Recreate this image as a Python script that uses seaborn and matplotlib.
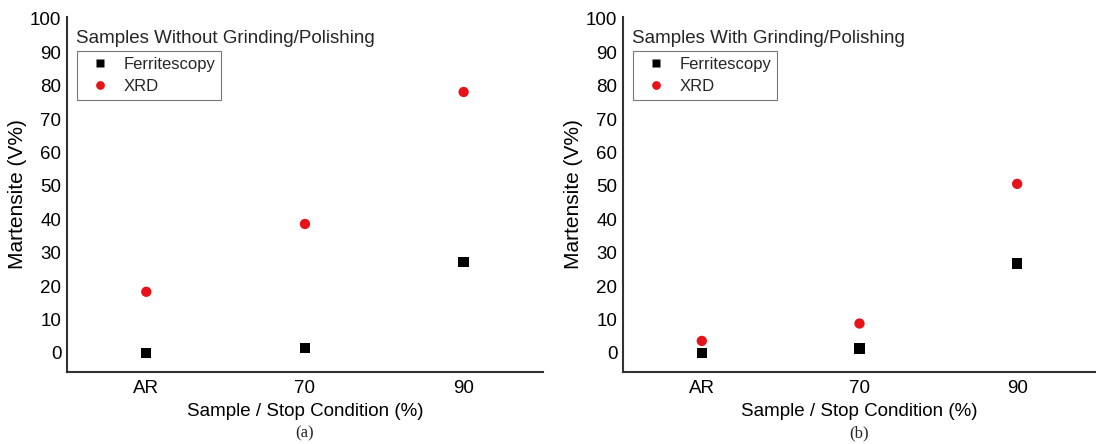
import pandas as pd
import matplotlib.pyplot as plt
import seaborn as sns

sns.set_theme(style="white")
plt.rcParams['font.family'] = ['Liberation Sans', 'DejaVu Sans']

# data
conditions = ["AR", "70", "90"]
ferrit_unpolished = [0.0, 1.5, 27.3]
xrd_unpolished = [18.3, 38.6, 78.1]
ferrit_polished = [0.0, 1.3, 26.8]
xrd_polished = [3.6, 8.8, 50.6]

titles = ["Samples Without Grinding/Polishing", "Samples With Grinding/Polishing"]
captions = ["(a)", "(b)"]


def long_df(ferrit, xrd):
    rows = []
    for c, v in zip(conditions, ferrit):
        rows.append({"Condition": c, "Martensite": v, "Method": "Ferritescopy"})
    for c, v in zip(conditions, xrd):
        rows.append({"Condition": c, "Martensite": v, "Method": "XRD"})
    return pd.DataFrame(rows)


frames = [long_df(ferrit_unpolished, xrd_unpolished), long_df(ferrit_polished, xrd_polished)]

fig = plt.figure(figsize=(10.96, 4.44), dpi=100)
ax_a = fig.add_axes([0.0611, 0.1622, 0.4343, 0.800])
ax_b = fig.add_axes([0.5684, 0.1622, 0.4316, 0.800])

for ax, df, title, cap in zip([ax_a, ax_b], frames, titles, captions):
    df["x"] = df["Condition"].map({c: i for i, c in enumerate(conditions)})
    sns.scatterplot(data=df, x="x", y="Martensite", hue="Method", style="Method",
                    palette={"Ferritescopy": "black", "XRD": "#e81219"},
                    markers={"Ferritescopy": "s", "XRD": "o"},
                    s=55, edgecolor="none", ax=ax)
    ax.set_xlim(-0.5, 2.5)
    ax.set_ylim(-5.7, 100.6)
    ax.set_xticks(range(len(conditions)))
    ax.set_xticklabels(conditions)
    ax.set_yticks(range(0, 101, 10))
    ax.tick_params(axis="both", length=0, labelsize=13.5, colors="black")
    ax.tick_params(axis="x", pad=6)
    ax.tick_params(axis="y", pad=4)
    ax.set_xlabel("Sample / Stop Condition (%)", fontsize=13.5, labelpad=4, color="black")
    ax.set_ylabel("Martensite (V%)", fontsize=15, labelpad=2, color="black")
    for side in ["top", "right"]:
        ax.spines[side].set_visible(False)
    for side in ["left", "bottom"]:
        ax.spines[side].set_color("#333333")
        ax.spines[side].set_linewidth(1.5)
    ax.text(0.02, 0.962, title, transform=ax.transAxes, fontsize=13.5, va="top", ha="left")
    leg = ax.legend(loc="upper left", bbox_to_anchor=(0.022, 0.903), fontsize=12,
                    frameon=True, fancybox=False, borderpad=0.35, handletextpad=0.4,
                    labelspacing=0.4, markerscale=0.85, borderaxespad=0)
    leg.get_frame().set_edgecolor("#555555")
    leg.get_frame().set_linewidth(0.8)
    ax.text(0.5, -0.172, cap, transform=ax.transAxes, fontsize=12, ha="center", va="center",
            family="Liberation Serif")

fig.savefig("out.png", dpi=100)
